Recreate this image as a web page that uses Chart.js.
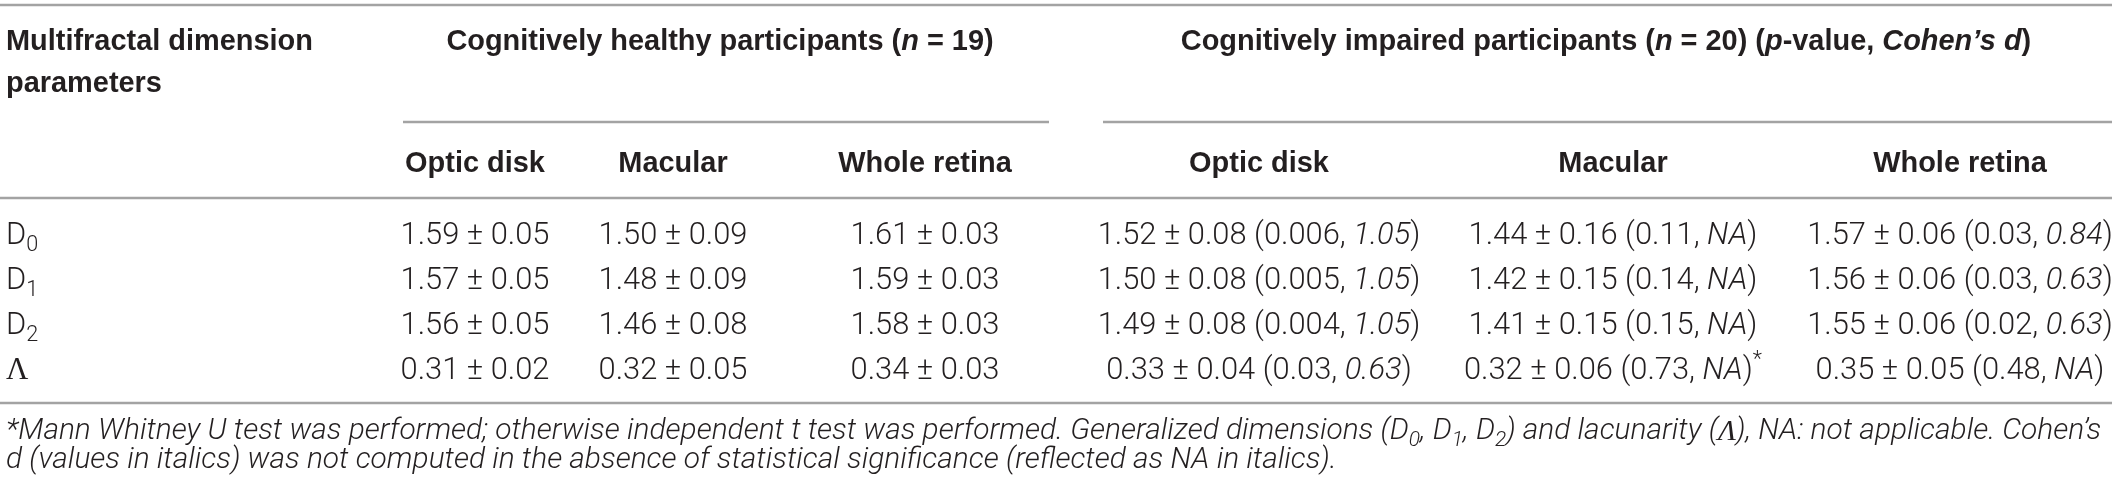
<!DOCTYPE html>
<html>
<head>
<meta charset="utf-8">
<script src="https://cdn.jsdelivr.net/npm/chart.js@4.4.1/dist/chart.umd.min.js"></script>
<style>
html, body { margin: 0; padding: 0; background: #fff; }
#wrap { width: 2117px; height: 491px; }
</style>
</head>
<body>
<div id="wrap"><canvas id="tbl" width="2117" height="491"></canvas></div>
<script>
// ---- table data ----
var paramNames = ['D', 'D', 'D', 'Λ'];
var paramSubs = ['0', '1', '2', ''];
var regionNames = ['Optic disk', 'Macular', 'Whole retina'];

// cognitively healthy participants (n = 19), mean and sd
var healthyOpticMean = [1.59, 1.57, 1.56, 0.31];
var healthyOpticSd = [0.05, 0.05, 0.05, 0.02];
var healthyMacularMean = [1.50, 1.48, 1.46, 0.32];
var healthyMacularSd = [0.09, 0.09, 0.08, 0.05];
var healthyWholeMean = [1.61, 1.59, 1.58, 0.34];
var healthyWholeSd = [0.03, 0.03, 0.03, 0.03];

// cognitively impaired participants (n = 20), mean, sd, p-value, Cohen's d (null = NA)
var impairedOpticMean = [1.52, 1.50, 1.49, 0.33];
var impairedOpticSd = [0.08, 0.08, 0.08, 0.04];
var impairedOpticP = ['0.006', '0.005', '0.004', '0.03'];
var impairedOpticD = [1.05, 1.05, 1.05, 0.63];
var impairedMacularMean = [1.44, 1.42, 1.41, 0.32];
var impairedMacularSd = [0.16, 0.15, 0.15, 0.06];
var impairedMacularP = ['0.11', '0.14', '0.15', '0.73'];
var impairedMacularD = [null, null, null, null];
var impairedMacularMannWhitney = [false, false, false, true];
var impairedWholeMean = [1.57, 1.56, 1.55, 0.35];
var impairedWholeSd = [0.06, 0.06, 0.06, 0.05];
var impairedWholeP = ['0.03', '0.03', '0.02', '0.48'];
var impairedWholeD = [0.84, 0.63, 0.63, null];

// ---- layout (scale units = pixels of the 2117 x 491 picture) ----
var W = 2117, H = 491;
var labelX = 6, ruleEnd = 2112;
var colX = [475, 673, 925, 1259, 1613, 1960];
var rowY = [236, 281, 326, 371];
var groupX = [720, 1606];
var headY = [42, 84], groupRuleY = 122, subY = 164;
var topRuleY = 5, headRuleY = 198, bottomRuleY = 403;
var footY = [432, 461];
var groupRules = [[403, 1049], [1103, ruleEnd]];

var INK = '#231f20', RULE = '#a3a3a3';
var SANS = '"Liberation Sans", Arial, sans-serif';
var LIGHT = 'Roboto, "Liberation Sans", sans-serif';

function healthyCell(mean, sd, r) {
  return [{ t: mean[r].toFixed(2) + ' \u00b1 ' + sd[r].toFixed(2) }];
}
function impairedCell(mean, sd, p, d, r, star) {
  var runs = [{ t: mean[r].toFixed(2) + ' \u00b1 ' + sd[r].toFixed(2) + ' (' + p[r] + ', ' }];
  runs.push({ t: d[r] === null ? 'NA' : d[r].toFixed(2), i: true });
  runs.push({ t: ')' });
  if (star && star[r]) runs.push({ t: '*', sup: true });
  return runs;
}

var columns = [
  function (r) { return healthyCell(healthyOpticMean, healthyOpticSd, r); },
  function (r) { return healthyCell(healthyMacularMean, healthyMacularSd, r); },
  function (r) { return healthyCell(healthyWholeMean, healthyWholeSd, r); },
  function (r) { return impairedCell(impairedOpticMean, impairedOpticSd, impairedOpticP, impairedOpticD, r); },
  function (r) { return impairedCell(impairedMacularMean, impairedMacularSd, impairedMacularP, impairedMacularD, r, impairedMacularMannWhitney); },
  function (r) { return impairedCell(impairedWholeMean, impairedWholeSd, impairedWholeP, impairedWholeD, r); }
];

var datasets = [];
// row label column
datasets.push({
  label: 'param',
  align: 'left',
  data: paramNames.map(function (n, r) { return { x: labelX, y: rowY[r] }; }),
  cells: paramNames.map(function (n, r) {
    return n === 'Λ' ? [{ t: n, serif: true }] : [{ t: n }, { t: paramSubs[r], sub: true }];
  }),
  pointRadius: 0
});
columns.forEach(function (fn, c) {
  datasets.push({
    label: 'col' + c,
    align: 'center',
    data: paramNames.map(function (n, r) { return { x: colX[c], y: rowY[r] }; }),
    cells: paramNames.map(function (n, r) { return fn(r); }),
    pointRadius: 0
  });
});

var headGroups = [
  [{ t: 'Cognitively healthy participants (' }, { t: 'n', i: true }, { t: ' = 19)' }],
  [{ t: 'Cognitively impaired participants (' }, { t: 'n', i: true }, { t: ' = 20) (' }, { t: 'p', i: true },
   { t: '-value, ' }, { t: 'Cohen\u2019s d', i: true }, { t: ')' }]
];
var footLines = [
  [{ t: '*Mann Whitney U test was performed; otherwise independent t test was performed. Generalized dimensions (D' },
   { t: '0', sub: true }, { t: ', D' }, { t: '1', sub: true }, { t: ', D' }, { t: '2', sub: true },
   { t: ') and lacunarity (' }, { t: 'Λ', serif: true }, { t: '), NA: not applicable. Cohen\u2019s' }],
  [{ t: 'd (values in italics) was not computed in the absence of statistical significance (reflected as NA in italics).' }]
];

// ---- rich text drawing ----
function runFont(run, st) {
  var size = st.size * (run.sub || run.sup ? 0.7 : 1);
  var fam = run.serif ? '"Liberation Serif", serif' : st.family;
  return ((run.i || st.italic) ? 'italic ' : '') + st.weight + ' ' + size.toFixed(2) + 'px ' + fam;
}
function runsWidth(ctx, runs, st) {
  var w = 0;
  runs.forEach(function (run) { ctx.font = runFont(run, st); w += ctx.measureText(run.t).width; });
  return w;
}
function drawRuns(ctx, runs, x, y, align, st) {
  var w = runsWidth(ctx, runs, st);
  var cx = align === 'center' ? x - w / 2 : x;
  ctx.fillStyle = st.color || INK;
  ctx.textBaseline = 'middle';
  ctx.textAlign = 'left';
  runs.forEach(function (run) {
    ctx.font = runFont(run, st);
    var dy = run.sub ? st.size * 0.3 : (run.sup ? -st.size * 0.35 : 0);
    ctx.fillText(run.t, cx, y + dy);
    cx += ctx.measureText(run.t).width;
  });
}
// font size that makes a sample string a given width
function fitSize(ctx, runs, st, width) {
  var probe = Object.assign({}, st, { size: 100 });
  return 100 * width / runsWidth(ctx, runs, probe);
}

var tablePlugin = {
  id: 'tablePlugin',
  afterDatasetsDraw: function (chart) {
    var ctx = chart.ctx, sx = chart.scales.x, sy = chart.scales.y;
    var X = function (v) { return sx.getPixelForValue(v); };
    var Y = function (v) { return sy.getPixelForValue(v); };

    var head = { weight: 'bold', family: SANS, size: 24 };
    head.size = fitSize(ctx, [{ t: 'Multifractal dimension' }], head, 307);
    var body = { weight: '300', family: LIGHT, size: 24 };
    body.size = fitSize(ctx, [{ t: '1.59 \u00b1 0.05' }], body, 149);
    var foot = { weight: '300', family: LIGHT, italic: true, size: 22 };
    foot.size = fitSize(ctx, footLines[0], foot, 2096);

    ctx.save();
    // rules
    ctx.strokeStyle = RULE;
    ctx.lineWidth = 2.5;
    function rule(x0, x1, y) {
      ctx.beginPath(); ctx.moveTo(X(x0), Y(y)); ctx.lineTo(X(x1), Y(y)); ctx.stroke();
    }
    rule(0, ruleEnd, topRuleY);
    groupRules.forEach(function (g) { rule(g[0], g[1], groupRuleY); });
    rule(0, ruleEnd, headRuleY);
    rule(0, ruleEnd, bottomRuleY);

    // header
    drawRuns(ctx, [{ t: 'Multifractal dimension' }], X(labelX), Y(headY[0]), 'left', head);
    drawRuns(ctx, [{ t: 'parameters' }], X(labelX), Y(headY[1]), 'left', head);
    headGroups.forEach(function (g, i) { drawRuns(ctx, g, X(groupX[i]), Y(headY[0]), 'center', head); });
    colX.forEach(function (cx, c) {
      drawRuns(ctx, [{ t: regionNames[c % 3] }], X(cx), Y(subY), 'center', head);
    });

    // body cells, placed at each dataset element
    chart.data.datasets.forEach(function (ds, di) {
      var meta = chart.getDatasetMeta(di);
      meta.data.forEach(function (el, r) {
        drawRuns(ctx, ds.cells[r], el.x, el.y, ds.align, body);
      });
    });

    // footnote
    footLines.forEach(function (line, i) { drawRuns(ctx, line, X(labelX), Y(footY[i]), 'left', foot); });
    ctx.restore();
  }
};

new Chart(document.getElementById('tbl'), {
  type: 'scatter',
  data: { datasets: datasets },
  options: {
    responsive: false,
    devicePixelRatio: 1,
    animation: false,
    layout: { padding: 0 },
    plugins: { legend: { display: false }, tooltip: { enabled: false } },
    scales: {
      x: { type: 'linear', min: 0, max: W, display: false },
      y: { type: 'linear', min: 0, max: H, reverse: true, display: false }
    }
  },
  plugins: [tablePlugin]
});
</script>
</body>
</html>
